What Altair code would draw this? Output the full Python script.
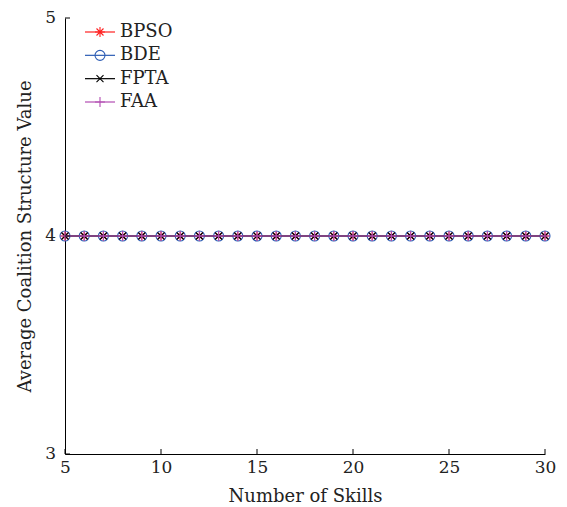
import altair as alt
import pandas as pd

skills = [5, 6, 7, 8, 9, 10, 11, 12, 13, 14, 15, 16, 17, 18, 19, 20,
          21, 22, 23, 24, 25, 26, 27, 28, 29, 30]
bpso = [4, 4, 4, 4, 4, 4, 4, 4, 4, 4, 4, 4, 4, 4, 4, 4, 4, 4, 4, 4, 4, 4, 4, 4, 4, 4]
bde = [4, 4, 4, 4, 4, 4, 4, 4, 4, 4, 4, 4, 4, 4, 4, 4, 4, 4, 4, 4, 4, 4, 4, 4, 4, 4]
fpta = [4, 4, 4, 4, 4, 4, 4, 4, 4, 4, 4, 4, 4, 4, 4, 4, 4, 4, 4, 4, 4, 4, 4, 4, 4, 4]
faa = [4, 4, 4, 4, 4, 4, 4, 4, 4, 4, 4, 4, 4, 4, 4, 4, 4, 4, 4, 4, 4, 4, 4, 4, 4, 4]

names = ["BPSO", "BDE", "FPTA", "FAA"]
colors = ["#ff2020", "#2c5cb4", "#000000", "#b24cb2"]
shapes = [
    "M-1,0L1,0M0,-1L0,1M-0.7,-0.7L0.7,0.7M-0.7,0.7L0.7,-0.7",
    "circle",
    "M-0.7,-0.7L0.7,0.7M-0.7,0.7L0.7,-0.7",
    "M-1,0L1,0M0,-1L0,1",
]
xticks = [5, 10, 15, 20, 25, 30]
yticks = [3, 4, 5]
ytick_labels = ["3", "4", "5"]

FONT = "DejaVu Serif"
W, H = 480, 436

xscale = alt.Scale(domain=[5, 30], nice=False, zero=False)
yscale = alt.Scale(domain=[3, 5], nice=False, zero=False)
xaxis = alt.Axis(values=xticks, title="Number of Skills", ticks=False, format="d",
                 labelFlush=False, labelOverlap=False, grid=False, labelPadding=5,
                 titlePadding=12)
yaxis = alt.Axis(values=yticks, title="Average Coalition Structure Value",
                 labels=False, ticks=False, grid=False, titlePadding=31)

series_vals = [bpso, bde, fpta, faa]
layers = []
for i, (name, vals) in enumerate(zip(names, series_vals)):
    df = pd.DataFrame({"skills": skills, "value": vals, "algo": name})
    xenc = alt.X("skills:Q", scale=xscale, axis=xaxis)
    yenc = alt.Y("value:Q", scale=yscale, axis=yaxis)
    line = alt.Chart(df).mark_line(color=colors[i], strokeWidth=1.2).encode(x=xenc, y=yenc)
    pts = alt.Chart(df).mark_point(shape=shapes[i], filled=False, color=colors[i],
                                   size=100, strokeWidth=1.1, opacity=1).encode(x=xenc, y=yenc)
    layers += [line, pts]

xt = alt.Chart(pd.DataFrame({"t": xticks})).mark_rule(color="black", strokeWidth=1).encode(
    x=alt.X("t:Q", scale=xscale, axis=xaxis), y=alt.value(H), y2=alt.value(H - 5))
ydf = pd.DataFrame({"t": yticks, "lab": ytick_labels})
yt = alt.Chart(ydf).mark_rule(color="black", strokeWidth=1).encode(
    y=alt.Y("t:Q", scale=yscale, axis=yaxis), x=alt.value(0), x2=alt.value(5))
ylab = alt.Chart(ydf).mark_text(align="right", baseline="middle", font=FONT, fontSize=17,
                                color="#222222").encode(
    y=alt.Y("t:Q", scale=yscale, axis=yaxis), x=alt.value(-9), text="lab:N")

main = alt.layer(*layers, xt, yt, ylab)

# legend
leg_df = pd.DataFrame({"label": names})
ly = alt.Y("label:N", sort=names, axis=None,
           scale=alt.Scale(type="point", domain=names, range=[14, 84], padding=0))
cscale = alt.Scale(domain=names, range=colors)
sscale = alt.Scale(domain=names, range=shapes)
leg_line = alt.Chart(leg_df).mark_rule(strokeWidth=1.2).encode(
    x=alt.value(20), x2=alt.value(50), y=ly,
    color=alt.Color("label:N", scale=cscale, legend=None))
leg_pt = alt.Chart(leg_df).mark_point(filled=False, size=100, strokeWidth=1.1, opacity=1).encode(
    x=alt.value(35), y=ly,
    color=alt.Color("label:N", scale=cscale, legend=None),
    shape=alt.Shape("label:N", scale=sscale, legend=None))
leg_txt = alt.Chart(leg_df).mark_text(align="left", baseline="middle", font=FONT,
                                      fontSize=18, color="#222222").encode(
    x=alt.value(55), y=ly, text="label:N")
legend = alt.layer(leg_line, leg_pt, leg_txt)

chart = alt.layer(main, legend).resolve_scale(y="independent").properties(
    width=W, height=H,
    autosize=alt.AutoSizeParams(type="none"),
    padding={"left": 57, "top": 10, "right": 14, "bottom": 50},
).configure_view(stroke=None).configure_axis(
    labelFont=FONT, titleFont=FONT, labelFontSize=17, titleFontSize=18,
    labelColor="#222222", titleColor="#222222", titleFontWeight="normal",
    domainColor="black", domainWidth=1,
)

chart.save("out.html", embed_options={"renderer": "svg", "actions": False})
